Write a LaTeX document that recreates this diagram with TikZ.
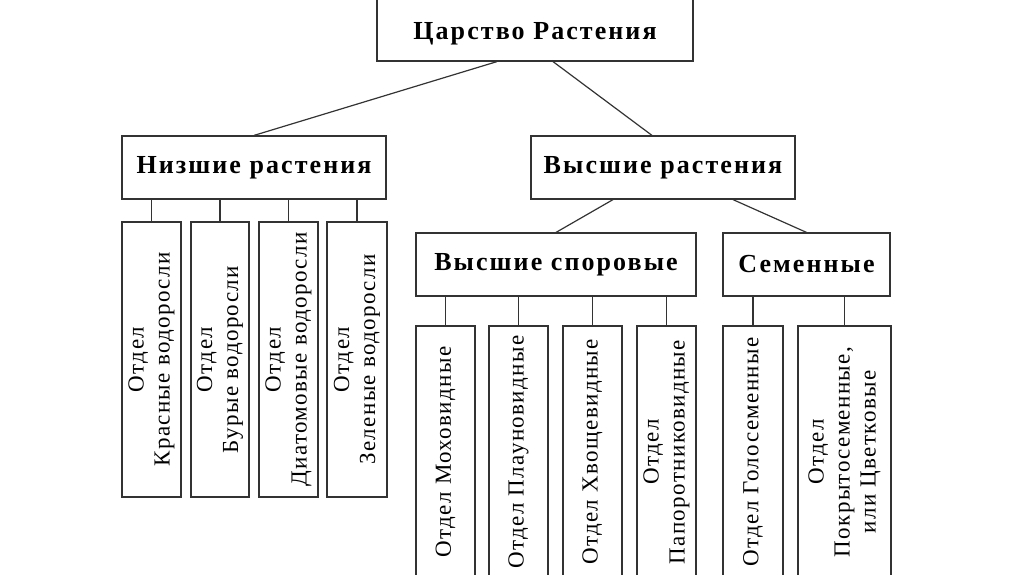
\documentclass[tikz,border=0pt]{standalone}
\usepackage{fontspec}
\setmainfont{Liberation Serif}
\usetikzlibrary{positioning}
\begin{document}
\begin{tikzpicture}[
    x=1pt, y=-1pt,
    box/.style={draw=black!80, line width=1.2pt, inner sep=0pt},
    head/.style={box, minimum height=63pt,
      font=\fontsize{26}{30}\selectfont\bfseries\addfontfeature{LetterSpace=8}},
    dept/.style={box, minimum height=275pt},
    deptlow/.style={box, minimum height=252pt},
    vtext/.style={rotate=90, align=center, inner sep=0pt,
      font=\fontsize{23}{26}\selectfont\addfontfeature{LetterSpace=6}},
    link/.style={draw=black!80, line width=1.2pt},
  ]
    \useasboundingbox (0,0) rectangle (1024,574);
    % top levels
    \node[head, minimum width=316pt, minimum height=66pt, text height=28pt] (root) at (535,28) {Царство Растения};
    \node[head, minimum width=264pt] (low) at (254,167.5) {Низшие растения};
    \node[head, minimum width=264pt] (high) at (663,167.5) {Высшие растения};
    \node[head, minimum width=280pt] (spore) at (556,264.5) {Высшие споровые};
    \node[head, minimum width=167pt] (seed) at (806.5,264.5) {Семенные};
    \draw[link] ([xshift=-38pt]root.south) -- (low.north);
    \draw[link] ([xshift=18pt]root.south) -- ([xshift=-11pt]high.north);
    \draw[link] ([xshift=-50pt]high.south) -- (spore.north);
    \draw[link] ([xshift=70pt]high.south) -- (seed.north);
    % Низшие растения: 4 отдела водорослей
    \foreach \n/\x/\w/\lb in {
      a1/151.5/59/{Отдел\\Красные водоросли},
      a2/220/58/{Отдел\\Бурые водоросли},
      a3/288.5/59/{Отдел\\Диатомовые водоросли},
      a4/357/60/{Отдел\\Зеленые водоросли}}
    { \node[dept, minimum width=\w pt] (\n) at (\x,359.5) {};
      \node[vtext] (\n t) at (\n) {\lb};
      \draw[link] (\n.north) -- (\n.north |- low.south); }
    % Высшие споровые
    \foreach \n/\x/\w/\lb in {
      b1/445.5/59/{Отдел Моховидные},
      b2/518.5/59/{Отдел Плауновидные},
      b3/592.5/59/{Отдел Хвощевидные},
      b4/666.5/59/{Отдел\\Папоротниковидные}}
    { \node[deptlow, minimum width=\w pt] (\n) at (\x,452) {};
      \node[vtext] (\n t) at (\n) {\lb};
      \draw[link] (\n.north) -- (\n.north |- spore.south); }
    % Семенные
    \foreach \n/\x/\w/\lb in {
      c1/753/60/{Отдел Голосеменные},
      c2/844.5/93/{Отдел\\Покрытосеменные,\\или Цветковые}}
    { \node[deptlow, minimum width=\w pt] (\n) at (\x,452) {};
      \node[vtext] (\n t) at (\n) {\lb};
      \draw[link] (\n.north) -- (\n.north |- seed.south); }
\end{tikzpicture}
\end{document}
